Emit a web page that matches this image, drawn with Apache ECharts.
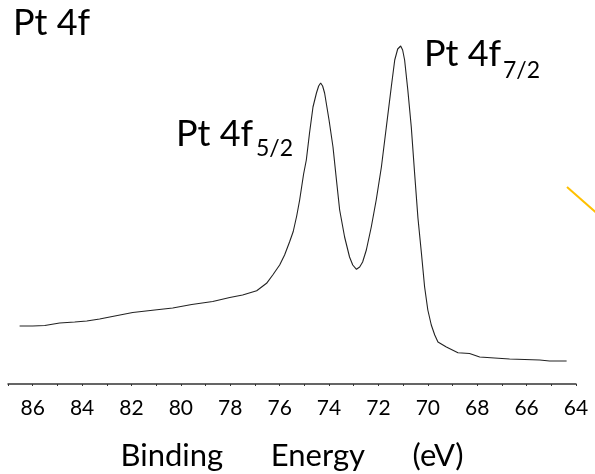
<!DOCTYPE html>
<html>
<head>
<meta charset="utf-8">
<script src="https://cdn.jsdelivr.net/npm/echarts@6/dist/echarts.min.js"></script>
<style>
  body { margin: 0; background: #fff; }
</style>
</head>
<body>
<div id="chart" style="width: 595px; height: 474px"></div>
<script>
// binding energy (eV)
const energy = [86.53, 86.00, 85.51, 84.91, 84.30, 83.81, 83.29, 82.88, 81.95, 81.06,
  80.33, 79.56, 78.71, 78.02, 77.50, 76.93, 76.53, 76.28, 76.00, 75.80,
  75.60, 75.45, 75.31, 75.19, 75.11, 75.03, 74.92, 74.79, 74.65, 74.51,
  74.42, 74.34, 74.26, 74.18, 74.00, 73.84, 73.70, 73.57, 73.37, 73.17,
  73.04, 72.89, 72.76, 72.64, 72.49, 72.29, 72.09, 71.88, 71.68, 71.48,
  71.34, 71.22, 71.10, 71.02, 70.94, 70.81, 70.67, 70.53, 70.40, 70.26,
  70.13, 70.00, 69.86, 69.72, 69.59, 69.25, 68.78, 68.31, 67.90, 67.30,
  66.69, 66.08, 65.47, 65.27, 65.19, 65.07, 64.38];
// intensity (arb. units)
const intensity = [58, 58, 58.5, 61, 62, 63, 65, 67, 71.5, 74,
  76, 79.5, 82.5, 86.5, 89, 93.3, 100.7, 109, 119, 129,
  142, 152.5, 168, 184, 197, 210, 224, 251, 277, 291,
  298, 301, 298, 291, 264, 237, 204, 174, 147, 127,
  119, 114.7, 117, 122, 134, 157, 184, 217, 257, 297,
  324, 335, 338, 334, 324, 294, 257, 209, 166, 131,
  97, 74, 59, 49, 42, 37, 31.3, 30.5, 27, 26,
  25, 24.5, 24, 23.5, 25, 23, 23];
const xTickLabels = [86, 84, 82, 80, 78, 76, 74, 72, 70, 68, 66, 64];

const chart = echarts.init(document.getElementById("chart"));
const font = "Lato, 'Open Sans', sans-serif";

const option = {
  animation: false,
  grid: { left: 8, right: 19, top: 0, bottom: 90, containLabel: false, outerBoundsMode: "none" },
  xAxis: {
    type: "value",
    min: 64,
    max: 87,
    interval: 1,
    inverse: true,
    splitLine: { show: false },
    axisLine: { show: true, lineStyle: { color: "#333", width: 1.5 } },
    axisTick: { show: true, length: 2, lineStyle: { color: "#333" } },
    axisLabel: {
      margin: 14,
      fontSize: 21,
      fontFamily: font,
      color: "#000",
      formatter: (v) => (xTickLabels.includes(v) ? String(v) : ""),
    },
    name: "Binding      Energy      (eV)",
    nameLocation: "middle",
    nameGap: 56,
    nameTextStyle: { fontSize: 31, fontFamily: font, color: "#000" },
  },
  yAxis: {
    type: "value",
    min: 0,
    max: 384,
    show: false,
  },
  series: [
    {
      type: "line",
      data: energy.map((e, i) => [e, intensity[i]]),
      symbol: "none",
      lineStyle: { color: "#222", width: 1.1 },
    },
  ],
  graphic: [
    { type: "text", left: 13, top: 5, style: { text: "Pt 4f", font: "36px " + font, fill: "#000" } },
    { type: "text", left: 176, top: 116, style: { text: "Pt 4f", font: "36px " + font, fill: "#000" } },
    { type: "text", left: 256, top: 137, style: { text: "5/2", font: "23px " + font, fill: "#000" } },
    { type: "text", left: 424, top: 36, style: { text: "Pt 4f", font: "36px " + font, fill: "#000" } },
    { type: "text", left: 503, top: 59, style: { text: "7/2", font: "23px " + font, fill: "#000" } },
    {
      type: "line",
      shape: { x1: 567, y1: 187, x2: 600, y2: 216 },
      style: { stroke: "#FFC000", lineWidth: 2 },
    },
  ],
};
chart.setOption(option);
</script>
</body>
</html>
